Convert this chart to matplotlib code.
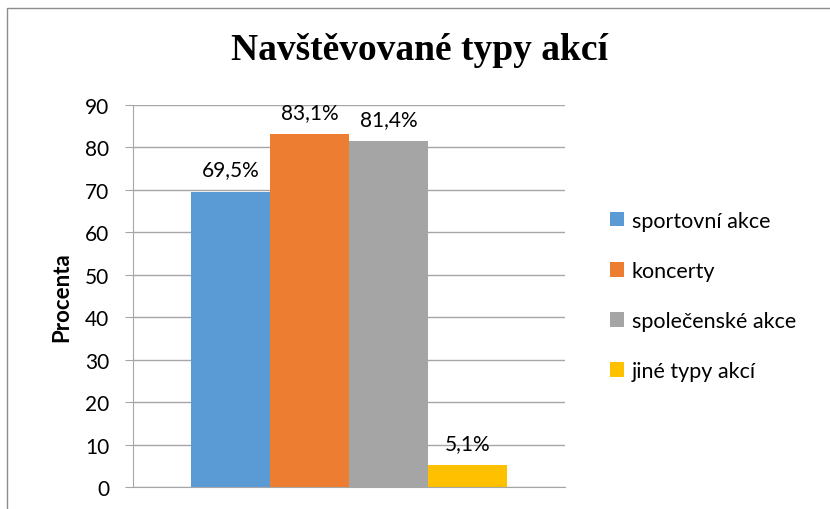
import matplotlib.pyplot as plt
from matplotlib.patches import Rectangle
import numpy as np

# Data
categories = ["sportovní akce", "koncerty", "společenské akce", "jiné typy akcí"]
values = [69.5, 83.1, 81.4, 5.1]
value_labels = ["69,5%", "83,1%", "81,4%", "5,1%"]
colors = ["#5b9bd5", "#ed7d31", "#a5a5a5", "#ffc000"]
yticks = [0, 10, 20, 30, 40, 50, 60, 70, 80, 90]

plt.rcParams['font.family'] = ['Lato', 'DejaVu Sans']

fig = plt.figure(figsize=(8.3, 5.1), dpi=100)
ax = fig.add_axes([0.1602, 0.0431, 0.5205, 0.7491])

# chart border (cut off on the right and bottom like in the original)
fig.patches.append(Rectangle((7 / 830, -0.2), 1.2, 1.2 - 9 / 510,
                             transform=fig.transFigure, fill=False,
                             edgecolor="#8c8c8c", linewidth=1.0))

bar_width = 0.1825
x = (np.arange(len(values)) - 1.5) * bar_width
bars = ax.bar(x, values, width=bar_width, color=colors, label=categories, zorder=2)

for xi, v, lab in zip(x, values, value_labels):
    ax.annotate(lab, (xi, v), xytext=(0, 9), textcoords="offset points",
                ha="center", va="bottom", fontsize=15)

ax.set_xlim(-0.5, 0.5)
ax.set_ylim(0, 90)
ax.set_yticks(yticks)
ax.set_xticks([])
ax.yaxis.grid(True, color="#a6a6a6", linewidth=1.0, zorder=0)
ax.set_axisbelow(True)
for s in ["top", "right"]:
    ax.spines[s].set_visible(False)
ax.spines["left"].set_color("#a6a6a6")
ax.spines["bottom"].set_color("#a6a6a6")
ax.tick_params(axis="y", length=6, color="#a6a6a6", labelsize=15, pad=11)
ax.set_ylabel("Procenta", fontsize=16, fontweight="bold", labelpad=9)

fig.text(0.506, 0.9, "Navštěvované typy akcí", ha="center", va="center",
         family="Liberation Serif", fontweight="bold", fontsize=27)

ax.legend(handles=list(bars), labels=categories, loc="center left",
          bbox_to_anchor=(1.06, 0.5), frameon=False, fontsize=15.5,
          handlelength=0.65, handleheight=0.65, handletextpad=0.35,
          labelspacing=1.4)

plt.savefig("out.png", dpi=100)
